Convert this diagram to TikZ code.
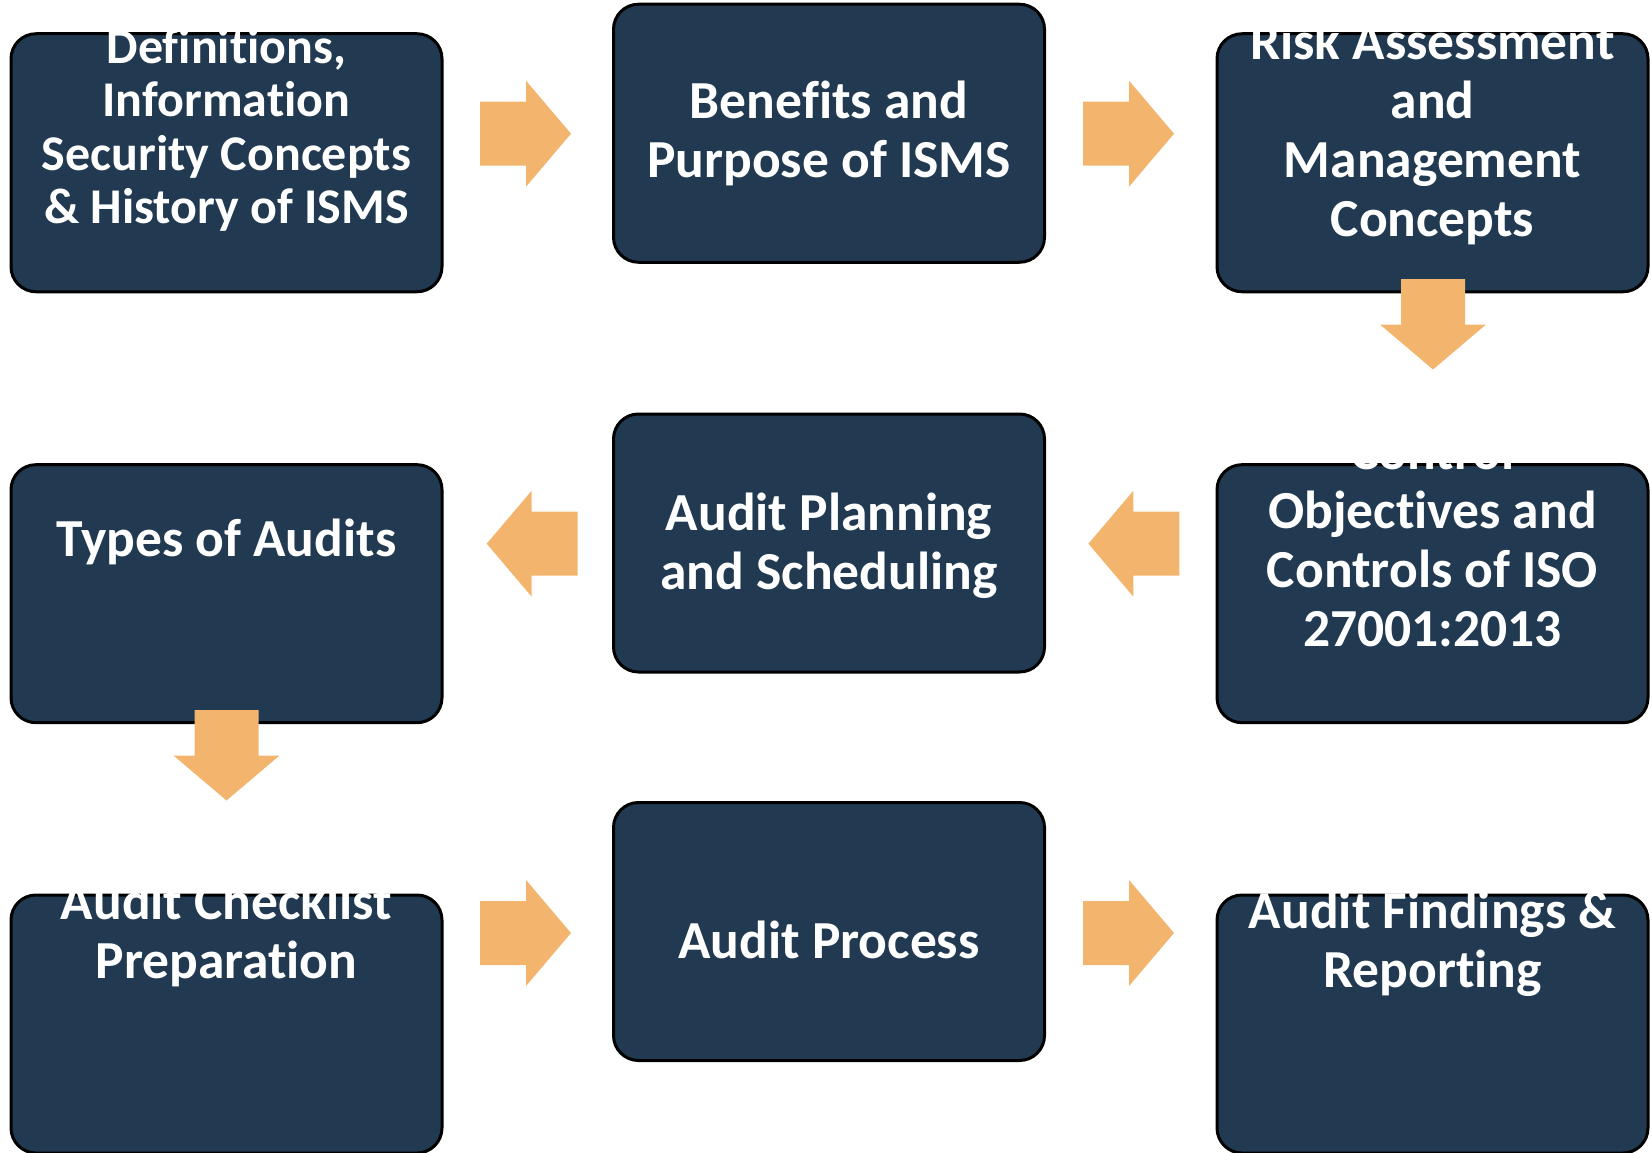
\documentclass[tikz,border=0pt]{standalone}
\usepackage{fontspec}
\setmainfont{Carlito}[Ligatures=NoCommon]
\definecolor{navy}{RGB}{33,58,81}
\definecolor{sand}{RGB}{243,181,110}
\tikzset{
  box/.style={draw=black, line width=3pt, fill=navy, rounded corners=25pt,
    minimum width=431pt, minimum height=258pt, inner sep=0pt},
  lbl/.style={text=white, align=center, inner sep=0pt,
    font=\fontsize{53.5}{59}\selectfont\bfseries},
  lblsmall/.style={lbl, font=\fontsize{50}{53.4}\selectfont\bfseries},
  blk/.style={fill=sand, draw=none}
}
\newcommand{\rarrow}[2]{% tail x, centre y
  \fill[blk] (#1,#2-32) -- ++(46,0) -- ++(0,-21) -- ++(45,53) -- ++(-45,53) -- ++(0,-21) -- ++(-46,0) -- cycle;}
\newcommand{\larrow}[2]{% tip x, centre y
  \fill[blk] (#1,#2) -- ++(45,-53) -- ++(0,21) -- ++(46,0) -- ++(0,64) -- ++(-46,0) -- ++(0,21) -- cycle;}
\newcommand{\darrow}[2]{% centre x, top y
  \fill[blk] (#1-32,#2) -- ++(64,0) -- ++(0,45.5) -- ++(21,0) -- ++(-53,45) -- ++(-53,-45) -- ++(21,0) -- cycle;}
\begin{document}
\begin{tikzpicture}[x=1pt,y=-1pt]
\useasboundingbox (0,0) rectangle (1652,1153);
% boxes
\node[box] (b1) at (226.5,162.75) {};
\node[box] (b2) at (829,133.25) {};
\node[box] (b3) at (1432.5,162.75) {};
\node[box] (b4) at (226.5,593.7) {};
\node[box] (b5) at (829,543) {};
\node[box] (b6) at (1432.5,593.7) {};
\node[box] (b7) at (226.5,1024) {};
\node[box] (b8) at (829,931.5) {};
\node[box] (b9) at (1432.5,1024) {};
% labels
\node[lblsmall] (t1) at (226.5,130) {Definitions,\\Information\\Security Concepts\\\& History of ISMS};
\node[lbl] (t2) at (829,133) {Benefits and\\Purpose of ISMS};
\node[lbl] (t3) at (1432.5,133) {Risk Assessment\\and\\Management\\Concepts};
\node[lbl] (t4) at (226.5,542) {Types of Audits};
\node[lbl] (t5) at (829,546) {Audit Planning\\and Scheduling};
\node[lbl] (t6) at (1432.5,539) {Control\\Objectives and\\Controls of ISO\\27001:2013};
\node[lbl] (t7) at (226.5,934) {Audit Checklist\\Preparation};
\node[lbl] (t8) at (829,940) {Audit Process};
\node[lbl] (t9) at (1432.5,943.5) {Audit Findings \&\\Reporting};
% block arrows
\rarrow{480}{133.7}
\rarrow{1083}{133.7}
\darrow{1433}{279}
\larrow{486.7}{543.7}
\larrow{1088.4}{543.7}
\darrow{226.5}{710}
\rarrow{480}{933}
\rarrow{1083}{933}
\end{tikzpicture}
\end{document}
